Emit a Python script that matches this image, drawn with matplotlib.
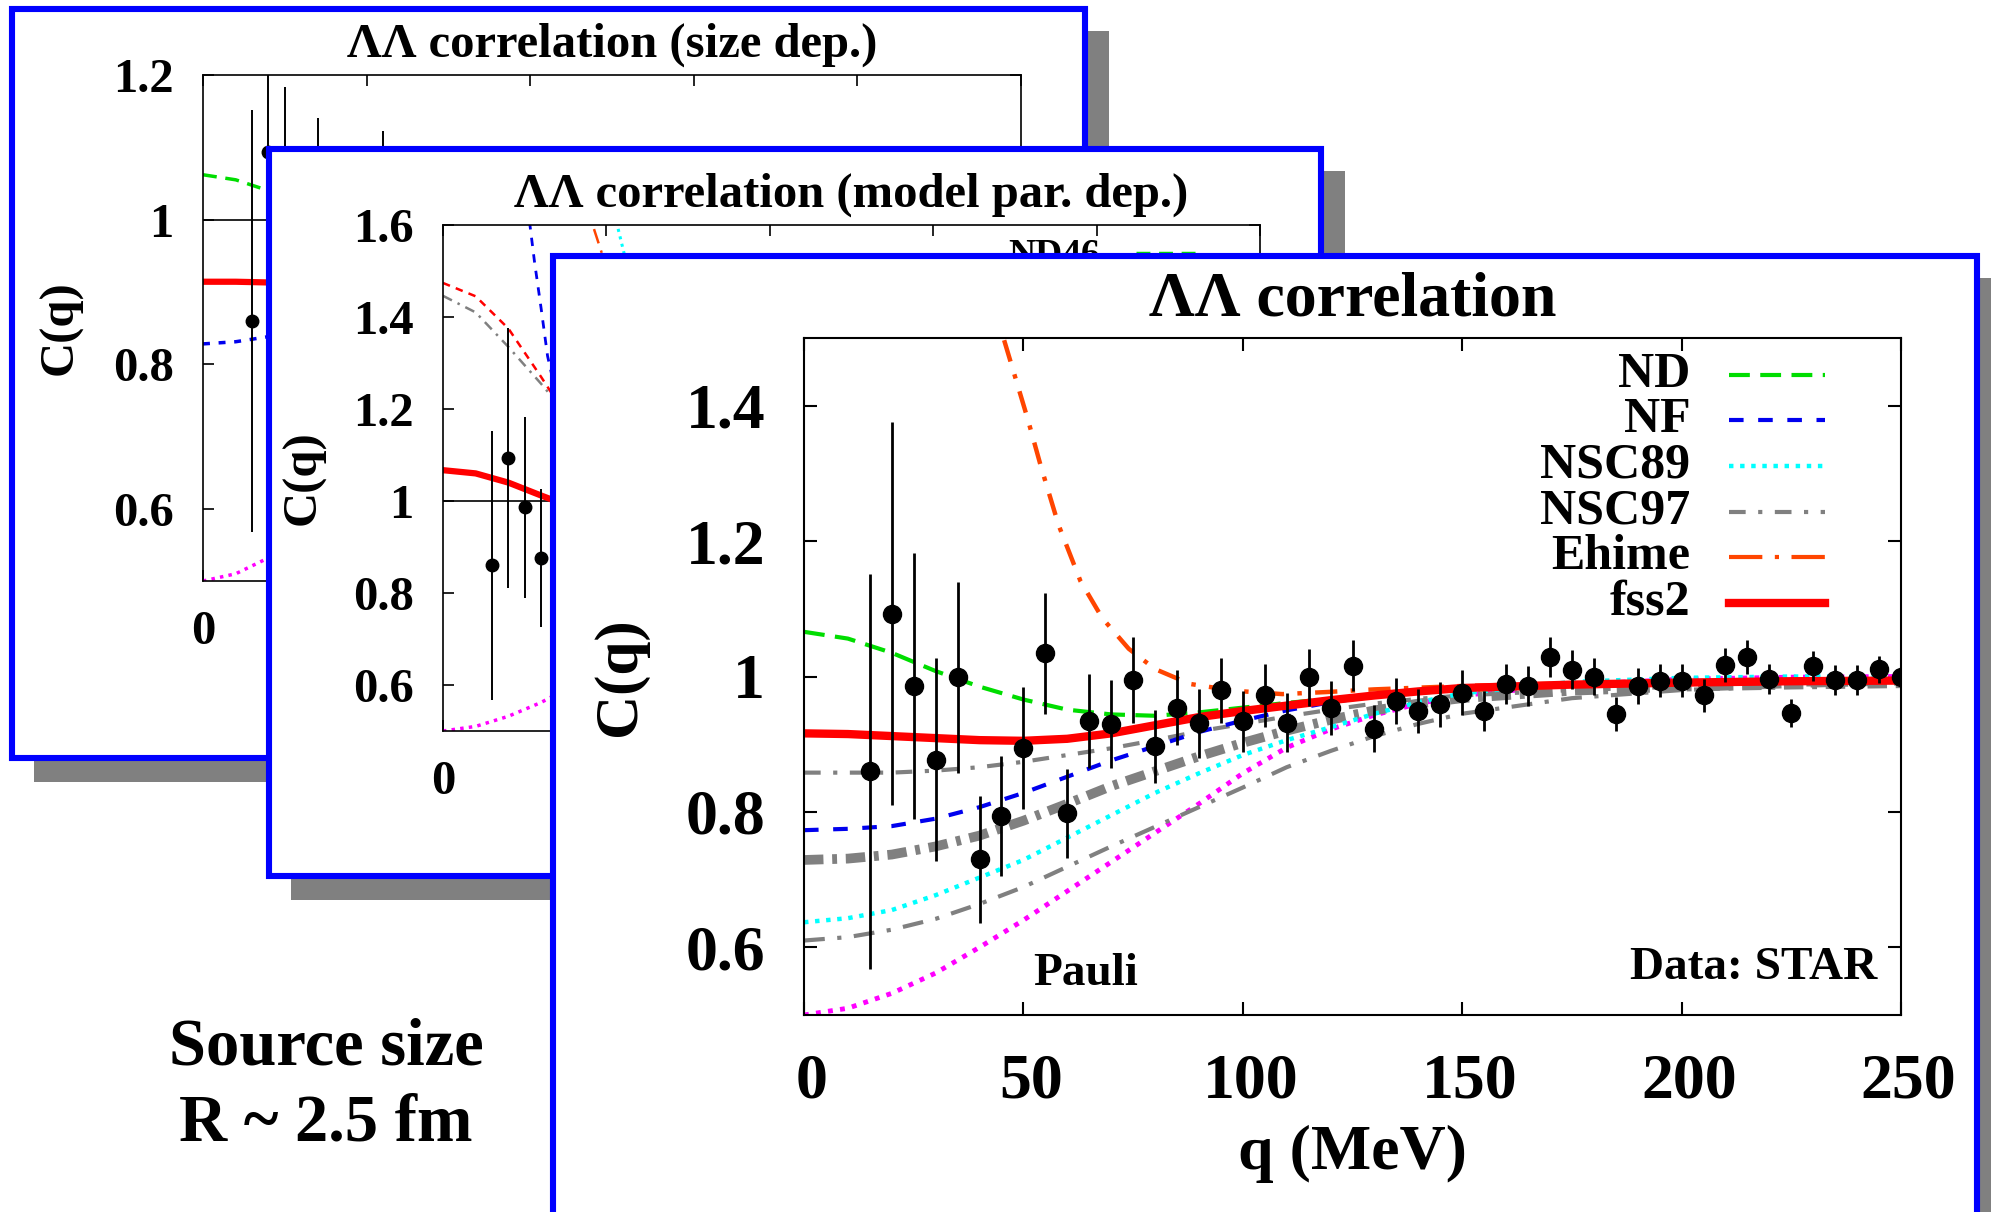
import numpy as np
import matplotlib
matplotlib.use("Agg")
import matplotlib.pyplot as plt
from matplotlib.patches import Rectangle
from matplotlib.transforms import ScaledTranslation

plt.rcParams['font.family'] = ['Liberation Serif', 'DejaVu Serif']
plt.rcParams['font.weight'] = 'bold'
plt.rcParams['axes.titleweight'] = 'bold'
plt.rcParams['axes.labelweight'] = 'bold'

# ---- STAR Lambda-Lambda correlation data ----
q_data = [15, 20, 25, 30, 35, 40, 45, 50, 55, 60,
          65, 70, 75, 80, 85, 90, 95, 100, 105, 110,
          115, 120, 125, 130, 135, 140, 145, 150, 155, 160,
          165, 170, 175, 180, 185, 190, 195, 200, 205, 210,
          215, 220, 225, 230, 235, 240, 245, 250]
c_data = [0.860, 1.093, 0.986, 0.877, 0.999, 0.730, 0.794, 0.895, 1.034, 0.798,
          0.934, 0.930, 0.995, 0.897, 0.954, 0.931, 0.980, 0.934, 0.972, 0.932,
          0.999, 0.954, 1.016, 0.923, 0.964, 0.949, 0.959, 0.976, 0.949, 0.989,
          0.986, 1.029, 1.010, 1.000, 0.944, 0.986, 0.994, 0.994, 0.972, 1.017,
          1.029, 0.996, 0.946, 1.016, 0.995, 0.995, 1.011, 0.999]
c_err = [0.292, 0.283, 0.197, 0.150, 0.141, 0.094, 0.089, 0.090, 0.089, 0.066,
         0.069, 0.065, 0.064, 0.054, 0.055, 0.051, 0.048, 0.045, 0.046, 0.044,
         0.042, 0.040, 0.038, 0.035, 0.034, 0.033, 0.033, 0.033, 0.030, 0.029,
         0.029, 0.029, 0.029, 0.027, 0.025, 0.026, 0.025, 0.025, 0.024, 0.025,
         0.025, 0.022, 0.021, 0.022, 0.022, 0.022, 0.020, 0.020]

# ---- model curves (main panel) ----
q_curve = [0, 10, 20, 30, 40, 50, 60, 70, 80, 90,
           100, 110, 120, 130, 140, 150, 175, 200, 225, 250]
nd = [1.066, 1.056, 1.035, 1.008, 0.985, 0.966, 0.951, 0.944, 0.942, 0.947,
      0.954, 0.961, 0.967, 0.972, 0.976, 0.980, 0.986, 0.990, 0.992, 0.994]
nf = [0.773, 0.775, 0.779, 0.790, 0.807, 0.828, 0.852, 0.876, 0.897, 0.918,
      0.935, 0.950, 0.962, 0.971, 0.978, 0.983, 0.990, 0.993, 0.995, 0.996]
nsc89 = [0.637, 0.643, 0.655, 0.677, 0.703, 0.729, 0.762, 0.795, 0.828, 0.857,
         0.884, 0.906, 0.925, 0.945, 0.962, 0.975, 0.992, 0.998, 1.000, 1.000]
nsc97_a = [0.858, 0.858, 0.858, 0.861, 0.866, 0.874, 0.884, 0.894, 0.906, 0.919,
           0.930, 0.941, 0.951, 0.960, 0.967, 0.972, 0.980, 0.985, 0.988, 0.990]
nsc97_b = [0.729, 0.731, 0.737, 0.749, 0.765, 0.787, 0.812, 0.838, 0.860, 0.882,
           0.902, 0.920, 0.936, 0.950, 0.960, 0.968, 0.979, 0.985, 0.988, 0.990]
nsc97_c = [0.610, 0.615, 0.626, 0.642, 0.664, 0.689, 0.719, 0.749, 0.778, 0.807,
           0.836, 0.866, 0.890, 0.912, 0.930, 0.945, 0.968, 0.980, 0.986, 0.990]
fss2 = [0.916, 0.915, 0.912, 0.909, 0.906, 0.905, 0.908, 0.916, 0.928, 0.940,
        0.949, 0.957, 0.965, 0.972, 0.978, 0.983, 0.988, 0.991, 0.993, 0.994]
pauli = [0.500, 0.510, 0.532, 0.562, 0.600, 0.640, 0.683, 0.726, 0.769, 0.812,
         0.857, 0.895, 0.922, 0.943, 0.960, 0.972, 0.988, 0.996, 0.999, 1.000]
q_ehime = [40, 42, 45, 48, 51, 54, 58, 63, 68, 74, 80, 88, 98, 109, 119,
           130, 150, 175, 200, 225, 250]
ehime = [1.65, 1.59, 1.51, 1.445, 1.38, 1.31, 1.224, 1.141, 1.086, 1.041, 1.011,
         0.989, 0.979, 0.974, 0.977, 0.981, 0.986, 0.990, 0.992, 0.994, 0.995]

# ---- size dependence panel ----
size_a = [1.062, 1.055, 1.040, 1.020, 0.998, 0.980, 0.968, 0.962, 0.962, 0.965,
          0.970, 0.974, 0.978, 0.981, 0.984, 0.986, 0.990, 0.992, 0.994, 0.995]
size_b = [0.914, 0.914, 0.913, 0.914, 0.918, 0.925, 0.934, 0.944, 0.953, 0.961,
          0.968, 0.974, 0.978, 0.982, 0.985, 0.987, 0.990, 0.992, 0.994, 0.995]
size_c = [0.828, 0.831, 0.838, 0.850, 0.868, 0.888, 0.908, 0.926, 0.942, 0.955,
          0.965, 0.973, 0.979, 0.983, 0.986, 0.988, 0.991, 0.993, 0.994, 0.995]

# ---- model parameter dependence panel ----
q_par = [0, 10, 20, 30, 40, 50, 60, 70, 80, 90, 100, 120, 150, 200, 250]
par_red_dash = [1.474, 1.445, 1.375, 1.270, 1.160, 1.080, 1.030, 1.000, 0.985, 0.980,
                0.980, 0.982, 0.988, 0.993, 0.995]
par_gray = [1.446, 1.410, 1.335, 1.255, 1.170, 1.100, 1.050, 1.020, 1.000, 0.990,
            0.985, 0.985, 0.988, 0.992, 0.994]
par_fss2 = [1.067, 1.060, 1.040, 1.012, 0.985, 0.963, 0.950, 0.945, 0.946, 0.950,
            0.956, 0.967, 0.980, 0.990, 0.994]
q_par_blue = [25, 26.6, 28, 30, 32, 35, 40, 50, 60, 70, 80, 100, 150, 200, 250]
par_blue = [1.68, 1.60, 1.52, 1.42, 1.315, 1.22, 1.12, 1.03, 0.99, 0.975, 0.970,
            0.975, 0.985, 0.992, 0.995]
q_par_orange = [44, 45.8, 49, 52, 56, 60, 70, 80, 100, 150, 250]
par_orange = [1.66, 1.60, 1.53, 1.45, 1.37, 1.30, 1.17, 1.08, 1.00, 0.985, 0.995]
q_par_cyan = [52, 53.3, 55.7, 60, 65, 70, 80, 100, 150, 250]
par_cyan = [1.64, 1.60, 1.53, 1.42, 1.30, 1.20, 1.08, 1.00, 0.985, 0.995]

q_ticks = [0, 50, 100, 150, 200, 250]
q_ticklabels = ['0', '50', '100', '150', '200', '250']
# the stacked cards behind only show their first x label
q_ticklabels_back = ['0', '', '', '', '', '']

W, H = 1991, 1212
fig = plt.figure(figsize=(W / 100, H / 100), dpi=100)


def fbox(x0, y0, x1, y1):
    # pixel box (top-left origin) -> figure fraction [left, bottom, width, height]
    return [x0 / W, 1 - y1 / H, (x1 - x0) / W, (y1 - y0) / H]


def card(x0, y0, x1, y1, z):
    l, b, w, h = fbox(x0 + 22, y0 + 22, x1 + 24, y1 + 24)
    fig.patches.append(Rectangle((l, b), w, h, transform=fig.transFigure,
                                 facecolor='#808080', edgecolor='none', zorder=z))
    l, b, w, h = fbox(x0, y0, x1, y1)
    fig.patches.append(Rectangle((l, b), w, h, transform=fig.transFigure,
                                 facecolor='white', edgecolor='none', zorder=z + 0.1))
    fig.patches.append(Rectangle((l, b), w, h, transform=fig.transFigure,
                                 facecolor='none', edgecolor='#0000ff', lw=4.4,
                                 zorder=z + 0.3))


def style(ax, ylim, yticks, xlabels, fs, tlen, pad, lw):
    ax.set_xlim(0, 250)
    ax.set_ylim(*ylim)
    ax.set_xticks(q_ticks)
    ax.set_xticklabels(xlabels)
    ax.set_yticks(yticks)
    ax.set_yticklabels(['%g' % v for v in yticks])
    ax.tick_params(direction='in', top=True, right=True, length=tlen, width=lw,
                   labelsize=fs, pad=pad)
    for s in ax.spines.values():
        s.set_linewidth(lw)


# ---------------- panel 1 : size dependence ----------------
card(12, 9, 1085, 758, 1)
ax1 = fig.add_axes(fbox(203, 75, 1021, 581))
ax1.set_zorder(1.2)
style(ax1, (0.5, 1.2), [0.6, 0.8, 1.0, 1.2], q_ticklabels_back, 35, 8, 21, 1.2)
ax1.set_title('ΛΛ correlation (size dep.)', fontsize=35, pad=13)
ax1.set_ylabel('C(q)', fontsize=35)
ax1.yaxis.set_label_coords(-0.147, 0.5)
ax1.axhline(1.0, color='black', lw=1.2)
ax1.plot(q_curve, pauli, color='#ff00ff', lw=2.5, dashes=(1, 1.5))
ax1.plot(q_curve, size_c, color='#0000ee', lw=2.5, dashes=(2, 2.5))
ax1.plot(q_curve, size_a, color='#00dd00', lw=2.5, dashes=(4, 2.5))
ax1.plot(q_curve, size_b, color='#ff0000', lw=4.5)
ax1.errorbar(q_data, c_data, yerr=c_err, fmt='o', color='black', ms=9,
             elinewidth=1.4, capsize=0)

# ---------------- panel 2 : model parameter dependence ----------------
card(269, 149, 1321, 876, 2)
ax2 = fig.add_axes(fbox(443, 225, 1260, 731))
ax2.set_zorder(2.2)
style(ax2, (0.5, 1.6), [0.6, 0.8, 1.0, 1.2, 1.4, 1.6], q_ticklabels_back,
      35, 8, 21, 1.2)
ax2.set_title('ΛΛ correlation (model par. dep.)', fontsize=35, pad=13)
ax2.set_ylabel('C(q)', fontsize=35)
ax2.yaxis.set_label_coords(-0.144, 0.5)
ax2.axhline(1.0, color='black', lw=1.2)
ax2.plot(q_curve, pauli, color='#ff00ff', lw=2.5, dashes=(1, 1.5))
ax2.plot(q_par, par_gray, color='#808080', lw=1.8, dashes=(4, 2.5, 1, 2.5))
ax2.plot(q_par, par_red_dash, color='#ff0000', lw=1.8, dashes=(3, 2.5))
ax2.plot(q_par_blue, par_blue, color='#0000ee', lw=2, dashes=(3, 3))
ax2.plot(q_par_orange, par_orange, color='#ff4500', lw=1.8, dashes=(6, 3, 1, 3))
ax2.plot(q_par_cyan, par_cyan, color='#00ffff', lw=2.2, dashes=(1, 1.5))
ax2.plot(q_par, par_fss2, color='#ff0000', lw=4.5)
ax2.errorbar(q_data, c_data, yerr=c_err, fmt='o', color='black', ms=9,
             elinewidth=1.4, capsize=0)
ax2.text(0.804, 0.94, 'ND46', transform=ax2.transAxes, ha='right', va='center',
         fontsize=27)
ax2.plot([0.848, 0.93], [0.945, 0.945], transform=ax2.transAxes, color='#00dd00',
         lw=2.5, dashes=(4, 2.5), clip_on=False)

# ---------------- main panel ----------------
card(553, 256, 1977, 1240, 3)
ax = fig.add_axes(fbox(804, 338, 1901, 1015))
ax.set_zorder(3.2)
style(ax, (0.5, 1.5), [0.6, 0.8, 1.0, 1.2, 1.4], q_ticklabels, 46, 9.5, 28, 1.5)
shift = ScaledTranslation(5.5 / 72, 0, fig.dpi_scale_trans)
for lab in ax.get_xticklabels():
    lab.set_transform(lab.get_transform() + shift)
ax.set_title('ΛΛ correlation', fontsize=46, pad=16)
ax.set_xlabel('q (MeV)', fontsize=46)
ax.xaxis.set_label_coords(0.5, -0.162)
ax.set_ylabel('C(q)', fontsize=44)
ax.yaxis.set_label_coords(-0.142, 0.5)

ax.plot(q_curve, pauli, color='#ff00ff', lw=3.5, dashes=(1, 1.5))
ax.plot(q_curve, nsc97_c, color='#808080', lw=3, dashes=(5, 3, 1, 3))
ax.plot(q_curve, nsc97_b, color='#808080', lw=7, dashes=(2, 0.9, 0.5, 0.9))
ax.plot(q_curve, nsc97_a, color='#808080', lw=3, dashes=(4, 3, 1, 3))
ax.plot(q_curve, nsc89, color='#00ffff', lw=3.2, dashes=(1, 1.5))
ax.plot(q_curve, nf, color='#0000ee', lw=3, dashes=(3.5, 3.5))
ax.plot(q_curve, nd, color='#00dd00', lw=3, dashes=(5, 2.5))
ax.plot(q_ehime, ehime, color='#ff4500', lw=3.2, dashes=(5, 3, 1, 3))
ax.plot(q_curve, fss2, color='#ff0000', lw=6)
ax.errorbar(q_data, c_data, yerr=c_err, fmt='o', color='black', ms=13,
            elinewidth=2, capsize=0, zorder=10)

# legend, labels right-aligned with line samples to their right
legend_rows = [
    ('ND', dict(color='#00dd00', lw=3, dashes=(5, 2.5))),
    ('NF', dict(color='#0000ee', lw=3, dashes=(3.5, 3.5))),
    ('NSC89', dict(color='#00ffff', lw=3.2, dashes=(1, 1.5))),
    ('NSC97', dict(color='#808080', lw=3, dashes=(4, 3, 1, 3))),
    ('Ehime', dict(color='#ff4500', lw=3, dashes=(8, 3, 1, 3))),
    ('fss2', dict(color='#ff0000', lw=6)),
]
row_y = [0.945, 0.879, 0.811, 0.743, 0.677, 0.609]
for (name, kw), yy in zip(legend_rows, row_y):
    ax.text(0.808, yy, name, transform=ax.transAxes, ha='right', va='center',
            fontsize=36)
    ax.plot([0.843, 0.931], [yy, yy], transform=ax.transAxes, clip_on=False, **kw)

ax.text(0.257, 0.061, 'Pauli', transform=ax.transAxes, ha='center', va='center',
        fontsize=34)
ax.text(0.978, 0.069, 'Data: STAR', transform=ax.transAxes, ha='right',
        va='center', fontsize=34)

fig.text(326 / W, 1 - 1048 / H, 'Source size', ha='center', va='center',
         fontsize=48, zorder=5)
fig.text(326 / W, 1 - 1124 / H, 'R ~ 2.5 fm', ha='center', va='center',
         fontsize=48, zorder=5)

fig.savefig('out.png', dpi=100)
